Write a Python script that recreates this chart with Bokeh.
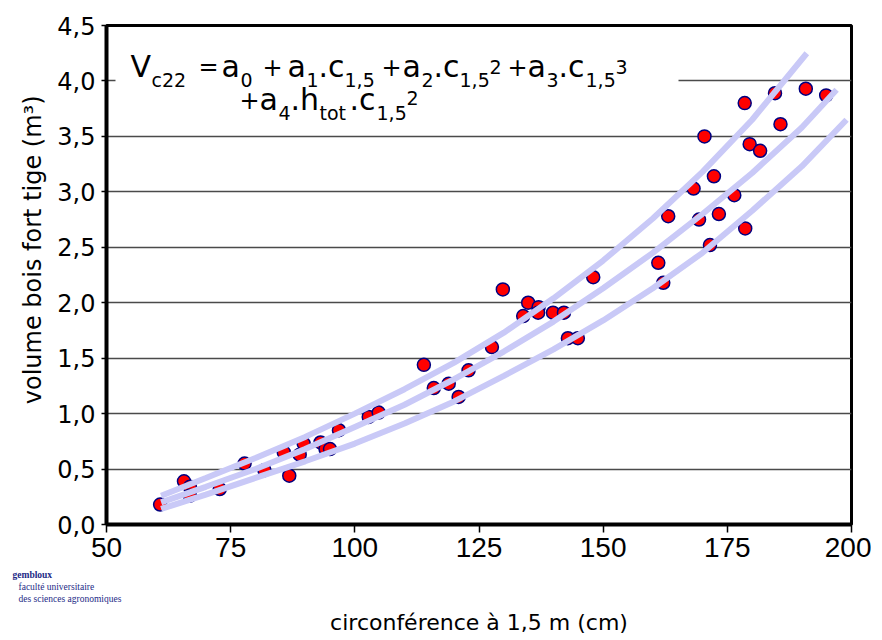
from bokeh.plotting import figure
from bokeh.models import Range1d, FixedTicker, Label, BoxAnnotation, Title
from bokeh.embed import file_html
from bokeh.resources import INLINE

# ---- data ----
circ = [60.8, 65.6, 66.8, 66.8, 72.8, 77.8, 81.8, 85.7, 86.8, 88.9,
        89.7, 93.1, 94.1, 95.0, 96.8, 102.8, 104.8, 113.9, 115.9, 118.9,
        120.9, 122.9, 127.6, 129.8, 133.9, 134.9, 137.0, 136.9, 139.9, 142.1,
        142.9, 144.9, 148.0, 161.1, 162.1, 163.1, 168.2, 169.3, 171.5, 172.3,
        173.3, 176.4, 178.6, 170.4, 178.5, 179.5, 181.6, 184.6, 185.7, 190.8,
        194.9]
vol = [0.18, 0.39, 0.34, 0.26, 0.32, 0.55, 0.49, 0.65, 0.44, 0.63,
       0.73, 0.74, 0.68, 0.68, 0.85, 0.97, 1.01, 1.44, 1.23, 1.27,
       1.15, 1.39, 1.60, 2.12, 1.88, 2.00, 1.96, 1.91, 1.91, 1.91,
       1.68, 1.68, 2.23, 2.36, 2.18, 2.78, 3.03, 2.75, 2.52, 3.14,
       2.80, 2.97, 2.67, 3.50, 3.80, 3.43, 3.37, 3.89, 3.61, 3.93,
       3.87]

upper_x = [61, 70, 80, 90, 100, 110, 120, 130, 140, 150, 160, 170, 180, 191]
upper_y = [0.26, 0.42, 0.60, 0.79, 1.00, 1.22, 1.46, 1.73, 2.04, 2.38, 2.76, 3.18, 3.65, 4.25]
mid_x = [61, 70, 80, 90, 100, 110, 120, 130, 140, 150, 160, 170, 180, 190, 197]
mid_y = [0.20, 0.34, 0.50, 0.68, 0.88, 1.08, 1.31, 1.56, 1.83, 2.13, 2.45, 2.80, 3.17, 3.58, 3.92]
lower_x = [61, 70, 80, 90, 100, 110, 120, 130, 140, 150, 160, 170, 180, 190, 199]
lower_y = [0.14, 0.27, 0.42, 0.57, 0.73, 0.91, 1.11, 1.34, 1.58, 1.84, 2.13, 2.45, 2.83, 3.23, 3.65]

x_ticks = [50, 75, 100, 125, 150, 175, 200]
x_tick_labels = ["50", "75", "100", "125", "150", "175", "200"]
y_ticks = [0.0, 0.5, 1.0, 1.5, 2.0, 2.5, 3.0, 3.5, 4.0, 4.5]
y_tick_labels = ["0,0", "0,5", "1,0", "1,5", "2,0", "2,5", "3,0", "3,5", "4,0", "4,5"]

x_title = "circonférence à 1,5 m (cm)"
y_title = "volume bois fort tige (m³)"
logo_lines = ["gembloux", "faculté universitaire", "des sciences agronomiques"]

# ---- figure ----
XMIN, XMAX, YMIN, YMAX = 50, 200, 0.0, 4.5
FL, FT, FW, FH = 106, 25, 745, 499  # frame in picture pixels


def px2x(px):
    return XMIN + (px - FL) * (XMAX - XMIN) / FW


def py2y(py):
    return YMIN + (FT + FH - py) * (YMAX - YMIN) / FH


p = figure(width=871, height=640,
           x_range=Range1d(XMIN, XMAX), y_range=Range1d(YMIN, YMAX),
           output_backend="svg", toolbar_location=None,
           min_border_left=FL, min_border_right=20,
           min_border_top=FT, min_border_bottom=640 - FT - FH)

p.background_fill_color = "white"
p.border_fill_color = "white"
p.outline_line_color = "black"
p.outline_line_width = 3

p.xgrid.visible = False
p.ygrid.ticker = FixedTicker(ticks=y_ticks)
p.ygrid.grid_line_color = "#4a4a4a"
p.ygrid.grid_line_width = 1.5

p.xaxis.ticker = FixedTicker(ticks=x_ticks)
p.xaxis.major_label_overrides = dict(zip(x_ticks, x_tick_labels))
p.yaxis.ticker = FixedTicker(ticks=y_ticks)
p.yaxis.major_label_overrides = dict(zip(y_ticks, y_tick_labels))

for ax in (p.xaxis, p.yaxis):
    ax.axis_line_width = 4
    ax.axis_line_color = "black"
    ax.major_tick_in = 0
    ax.major_tick_line_width = 1.5
    ax.major_tick_line_color = "black"
    ax.minor_tick_line_color = None
    ax.major_label_text_color = "black"

p.xaxis.major_tick_out = 8
p.xaxis.major_label_standoff = 5
p.xaxis.major_label_text_font = "Liberation Sans"
p.xaxis.major_label_text_font_size = "28px"

p.yaxis.major_tick_out = 5
p.yaxis.major_label_standoff = 6
p.yaxis.major_label_text_font = "DejaVu Sans"
p.yaxis.major_label_text_font_size = "24px"

# y title: its top end placed a little below the frame top, as in the reference
p.add_layout(Title(text=y_title, align="right", offset=70, standoff=16,
                   text_font="DejaVu Sans", text_font_size="24px",
                   text_font_style="normal", text_color="black"), "left")

# small spacer, logo lines, then the x title, stacked below the x axis
p.add_layout(Title(text=" ", align="left", standoff=0, text_font_size="6px"), "below")
for i, t in enumerate(logo_lines):
    p.add_layout(Title(text=t, align="left", offset=-94 if i == 0 else -88,
                       standoff=0, text_font="Liberation Serif",
                       text_font_size="9.5px", text_line_height=1.0,
                       text_font_style="bold" if i == 0 else "normal",
                       text_color="#1c2a86"), "below")
p.add_layout(Title(text=x_title, align="center", standoff=8,
                   text_font="DejaVu Sans", text_font_size="22px",
                   text_font_style="normal", text_color="black"), "below")

# points (under the curves)
p.scatter(circ, vol, size=13, fill_color="#ff0000", line_color="#000080",
          line_width=1.5)

# fitted curve and band
for xs, ys in ((upper_x, upper_y), (mid_x, mid_y), (lower_x, lower_y)):
    p.line(xs, ys, line_color="#c9c9f7", line_width=6)

# white box behind the formula
p.add_layout(BoxAnnotation(left=px2x(115), right=px2x(678),
                           top=py2y(38), bottom=py2y(126),
                           fill_color="white", fill_alpha=1.0,
                           line_color=None, level="underlay"))

M, S, O = 30, 19, 24
formula = [
    ("V", 130, 78, M), ("c22", 151, 87, S), ("=", 198, 76, O),
    ("a", 221, 78, M), ("0", 240, 87, S), ("+", 262, 76, O),
    ("a", 287, 78, M), ("1", 306, 87, S), (".c", 318, 78, M), ("1,5", 344, 87, S),
    ("+", 381, 76, O),
    ("a", 402, 78, M), ("2", 421, 87, S), (".c", 433, 78, M), ("1,5", 459, 87, S),
    ("2", 489, 74, S),
    ("+", 507, 76, O),
    ("a", 527, 78, M), ("3", 546, 87, S), (".c", 558, 78, M), ("1,5", 585, 87, S),
    ("3", 615, 74, S),
    ("+", 239, 109, O), ("a", 259, 111, M), ("4", 278, 120, S),
    (".h", 290, 111, M), ("tot", 319, 120, S), (".c", 349, 111, M),
    ("1,5", 376, 120, S), ("2", 406, 105, S),
]
for t, x, y, s in formula:
    yy = y - 0.39 * s
    p.add_layout(Label(x=px2x(x), y=py2y(yy), text=t, text_font="DejaVu Sans",
                       text_font_size=f"{s}px", text_color="black",
                       text_baseline="alphabetic", text_align="left"))

open("out.html", "w").write(file_html(p, INLINE))
